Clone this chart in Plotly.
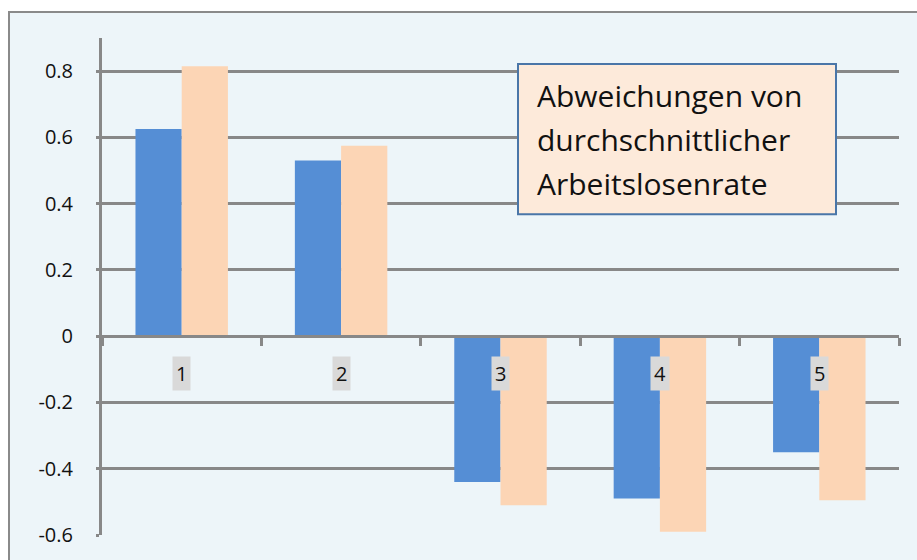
import plotly.graph_objects as go

# data
categories = ["1", "2", "3", "4", "5"]
series_a = [0.625, 0.53, -0.44, -0.49, -0.35]
series_b = [0.815, 0.575, -0.51, -0.59, -0.495]
ytick_vals = [-0.6, -0.4, -0.2, 0, 0.2, 0.4, 0.6, 0.8]
ytick_text = ["-0.6", "-0.4", "-0.2", "0", "0.2", "0.4", "0.6", "0.8"]
box_lines = ["Abweichungen von", "durchschnittlicher", "Arbeitslosenrate"]

W, H = 917, 560
L, R, T, B = 102, 18, 38, 23
pw, ph = W - L - R, H - T - B


def px(x):
    return (x - L) / pw


def py(y):
    return (H - B - y) / ph


grid = "#888888"
font = "Open Sans"

fig = go.Figure()
fig.add_trace(go.Bar(x=categories, y=series_a, marker=dict(color="#558ED5", line=dict(width=0)), name="A"))
fig.add_trace(go.Bar(x=categories, y=series_b, marker=dict(color="#FCD5B5", line=dict(width=0)), name="B"))

# outer chart frame
fig.add_shape(type="rect", xref="paper", yref="paper", layer="below",
              x0=px(9), x1=px(W + 5), y0=py(H + 5), y1=py(12),
              fillcolor="#EDF5F9", line=dict(color="#8A8A8A", width=2))

# text box
fig.add_shape(type="rect", xref="paper", yref="paper", layer="above",
              x0=px(518), x1=px(836), y0=py(215), y1=py(64),
              fillcolor="#FDEADA", line=dict(color="#4A76A8", width=2))
for i, line in enumerate(box_lines):
    fig.add_annotation(xref="paper", yref="paper", x=px(535), y=py(96 + 44 * i),
                       xanchor="left", yanchor="middle", align="left",
                       text=line, showarrow=False,
                       font=dict(family=font, size=30, color="#111111"))

# category labels with grey background, just under the zero line
for i, c in enumerate(categories):
    fig.add_annotation(x=i, y=0, xref="x", yref="y", yshift=-37,
                       text=c, showarrow=False, bgcolor="#D9D9D9", borderpad=3,
                       font=dict(family=font, size=20, color="#111111"))

fig.update_layout(
    width=W, height=H,
    margin=dict(l=L, r=R, t=T, b=B, pad=0),
    paper_bgcolor="white", plot_bgcolor="rgba(0,0,0,0)",
    barmode="group", bargap=0.42, bargroupgap=0,
    showlegend=False,
    font=dict(family=font, size=20, color="#111111"),
)
fig.update_xaxes(type="category", range=[-0.5, 4.5], anchor="free", position=0.4,
                 showgrid=False, showticklabels=False,
                 showline=True, linecolor=grid, linewidth=3,
                 ticks="outside", tickson="boundaries", ticklen=8,
                 tickwidth=3, tickcolor=grid, fixedrange=True)
fig.update_yaxes(range=[-0.6, 0.9], tickvals=ytick_vals, ticktext=ytick_text,
                 showgrid=True, gridcolor=grid, gridwidth=3,
                 zeroline=False, showline=True, linecolor=grid, linewidth=3,
                 ticks="outside", ticklen=3, tickwidth=3, tickcolor=grid,
                 ticklabelstandoff=19, tickfont=dict(family=font, size=20))

fig.write_html("out.html", config={"displayModeBar": False},
               post_script="document.body.style.margin='0';")
